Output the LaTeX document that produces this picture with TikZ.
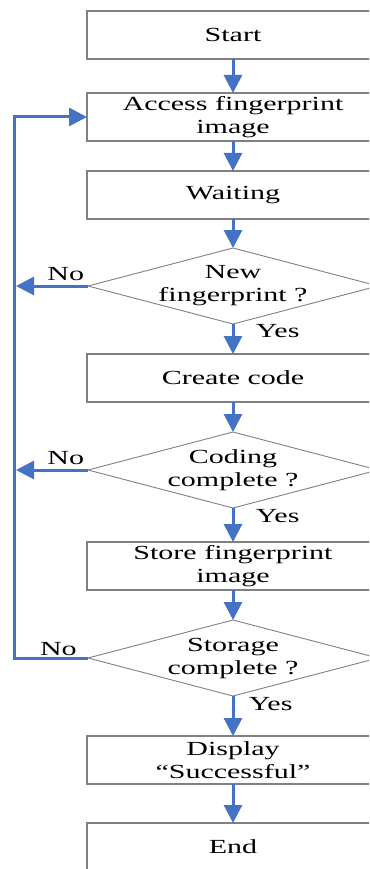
\documentclass[tikz,border=0pt]{standalone}
\usepackage{fontspec}
\setmainfont[FakeStretch=1.5]{Liberation Serif}
\usepackage{xcolor}
\usetikzlibrary{positioning,shapes.geometric,arrows.meta}
\definecolor{flowblue}{RGB}{68,114,196}
\definecolor{boxgray}{RGB}{128,128,128}

\begin{document}
\begin{tikzpicture}[x=1pt, y=1pt, node distance=30pt, font=\fontsize{20}{23}\selectfont]
    \tikzstyle{process} = [rectangle, minimum width=292pt, minimum height=48pt, align=center, draw=boxgray, line width=1.2pt, inner sep=0pt, outer sep=0pt]
    \tikzstyle{decision} = [diamond, minimum width=290pt, minimum height=76pt, draw=boxgray, line width=0.9pt, inner sep=0pt, outer sep=0pt]
    \tikzstyle{flowline} = [-{Triangle[length=18pt, width=18pt]}, color=flowblue, line width=3pt]
    \tikzstyle{answer} = [text=black]

    \path [use as bounding box, clip] (0,0) rectangle (369,-869);

    % Steps
    \node [process] (start) at (233,-35) {Start};
    \node [process, below=34pt of start] (access) {Access fingerprint\\image};
    \node [process, below=of access] (waiting) {Waiting};
    \node [decision, below=29pt of waiting, label={[align=center]center:New\\fingerprint ?}] (new_fp) {};
    \node [process, below=of new_fp] (create) {Create code};
    \node [decision, below=of create, label={[align=center]center:Coding\\complete ?}] (coding_done) {};
    \node [process, below=34pt of coding_done] (store) {Store fingerprint\\image};
    \node [decision, below=of store, label={[align=center]center:Storage\\complete ?}] (storage_done) {};
    \node [process, below=40pt of storage_done] (display) {Display\\“Successful”};
    \node [process, below=39pt of display] (finish) {End};

    % Main flow
    \draw [flowline] (start) -- (access);
    \draw [flowline] (access) -- (waiting);
    \draw [flowline] (waiting) -- (new_fp);
    \draw [flowline] (new_fp) -- node [answer, pos=0.25, right=18pt] {Yes} (create);
    \draw [flowline] (create) -- (coding_done);
    \draw [flowline] (coding_done) -- node [answer, pos=0.25, right=18pt] {Yes} (store);
    \draw [flowline] (store) -- (storage_done);
    \draw [flowline] (storage_done) -- node [answer, pos=0.21, right=11pt] {Yes} (display);
    \draw [flowline] (display) -- (finish);

    % Loop back
    \coordinate (back) at ([xshift=-73pt]access.west);
    \coordinate (back_low) at (storage_done.west -| back);
    \draw [flowline, shorten >=2pt] (new_fp.west) -- node [answer, pos=0.3, above] {No} (new_fp.west -| back);
    \draw [flowline, shorten >=2pt] (coding_done.west) -- node [answer, pos=0.3, above] {No} (coding_done.west -| back);
    \draw [flowline] (storage_done.west) -- node [answer, pos=0.4, above, inner sep=1pt] {No} (back_low) -- (back) -- (access);
\end{tikzpicture}
\end{document}
